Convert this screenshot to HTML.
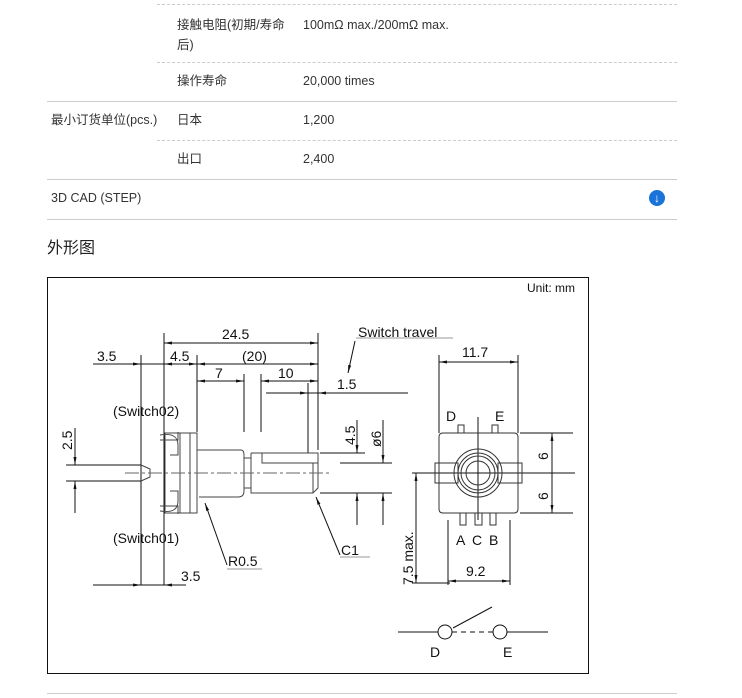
<!DOCTYPE html>
<html><head><meta charset="utf-8"><style>
body{margin:0;width:742px;height:698px;background:#fff;position:relative;font-family:"Liberation Sans","Noto Sans CJK SC",sans-serif;color:#333;font-size:12.5px;overflow:hidden}
.t{position:absolute;white-space:nowrap;line-height:18px}
.l{position:absolute;left:47px;width:630px;height:0;border-top:1px solid #ccc}
.d{position:absolute;left:157px;width:520px;height:0;border-top:1px dashed #ccc}
</style></head><body>
<div class="d" style="top:4px"></div>
<div class="t" style="left:177px;top:15px;line-height:20px">接触电阻(初期/寿命<br>后)</div>
<div class="t" style="left:303px;top:16px">100mΩ max./200mΩ max.</div>
<div class="d" style="top:62px"></div>
<div class="t" style="left:177px;top:72px">操作寿命</div>
<div class="t" style="left:303px;top:72px">20,000 times</div>
<div class="l" style="top:101px"></div>
<div class="t" style="left:51px;top:111px">最小订货单位(pcs.)</div>
<div class="t" style="left:177px;top:111px">日本</div>
<div class="t" style="left:303px;top:111px">1,200</div>
<div class="d" style="top:140px"></div>
<div class="t" style="left:177px;top:150px">出口</div>
<div class="t" style="left:303px;top:150px">2,400</div>
<div class="l" style="top:179px"></div>
<div class="t" style="left:51px;top:189px">3D CAD (STEP)</div>
<div style="position:absolute;left:649px;top:190px;width:16px;height:16px;border-radius:50%;background:#1a73d9;color:#fff;font-size:12px;line-height:16px;text-align:center;font-weight:bold">↓</div>
<div class="l" style="top:219px"></div>
<div class="t" style="left:47px;top:240px;font-size:16px;color:#222">外形图</div>
<div class="l" style="top:693px"></div>
<svg style="position:absolute;left:0;top:0" width="742" height="698" font-family="Liberation Sans, sans-serif" fill="none" stroke="#111" stroke-width="1">
<defs><marker id="a" markerWidth="8" markerHeight="6" refX="8" refY="3" orient="auto-start-reverse"><path d="M0,1.5L8,3L0,4.5z" fill="#111" stroke="none"/></marker></defs>
<rect x="47.5" y="277.5" width="541" height="396"/>
<g fill="#111" stroke="none" font-size="14">
<text x="527" y="292" font-size="12">Unit: mm</text>
<text x="222" y="339">24.5</text>
<text x="97" y="361">3.5</text><text x="170" y="361">4.5</text><text x="242" y="361">(20)</text>
<text x="215" y="378">7</text><text x="278" y="378">10</text>
<text x="337" y="389">1.5</text>
<text x="358" y="337">Switch travel</text>
<text x="113" y="416">(Switch02)</text>
<text x="113" y="543">(Switch01)</text>
<text x="228" y="566">R0.5</text>
<text x="341" y="555">C1</text>
<text x="181" y="581">3.5</text>
<text x="462" y="357">11.7</text>
<text x="446" y="421">D</text><text x="495" y="421">E</text>
<text x="456" y="545">A</text><text x="472" y="545">C</text><text x="489" y="545">B</text>
<text x="466" y="576">9.2</text>
<text x="430" y="657">D</text><text x="503" y="657">E</text>
<text transform="translate(72,450) rotate(-90)">2.5</text>
<text transform="translate(355,445) rotate(-90)">4.5</text>
<text transform="translate(381,447) rotate(-90)">ø6</text>
<text transform="translate(548,460) rotate(-90)">6</text>
<text transform="translate(548,500) rotate(-90)">6</text>
<text transform="translate(413,585) rotate(-90)">7.5 max.</text>
</g>
<path stroke="#999" d="M356,338H453 M340,557H370 M227,569H262"/>
<path d="M355,341L348,373" marker-end="url(#a)"/>
<path d="M164,333V585 M318,333V450 M141,355V585 M197,355V432 M244,374V432 M261,374V432 M308,383V453 M93,364H164 M93,585H164 M266,393H408 M66,465H141 M66,481H141 M320,453H365 M320,493H392 M340,463H392"/>
<path d="M164,343H318" marker-start="url(#a)" marker-end="url(#a)"/>
<path d="M120,364H141" marker-end="url(#a)"/><path d="M164,364H197" marker-start="url(#a)" marker-end="url(#a)"/>
<path d="M197,364H318" marker-start="url(#a)" marker-end="url(#a)"/>
<path d="M197,381H244" marker-start="url(#a)" marker-end="url(#a)"/><path d="M261,381H318" marker-start="url(#a)" marker-end="url(#a)"/>
<path d="M290,393H308" marker-end="url(#a)"/><path d="M340,393H318" marker-end="url(#a)"/>
<path d="M120,585H141" marker-end="url(#a)"/><path d="M186,585H164" marker-end="url(#a)"/>
<path d="M75,428V465" marker-end="url(#a)"/><path d="M75,513V481" marker-end="url(#a)"/>
<path d="M357,420V453" marker-end="url(#a)"/><path d="M357,525V493" marker-end="url(#a)"/>
<path d="M383,420V463" marker-end="url(#a)"/><path d="M383,525V493" marker-end="url(#a)"/>
<path stroke="#444" d="M165,433H197V513H165Z M197,450H241Q244,450 244,455V491Q244,497 238,497H199 M244,458H251V488H244 M251,453H318V463 M262,453V463H318 M251,453V493H313L318,488V463 M313,463V493 M160,440H178V432 M160,506H178V514 M180,433V513 M190,433V513 M160,435Q178,432 178,445V455H170 M160,511Q178,514 178,501V491H170 M141,465L150,469V477L141,481"/>
<path stroke="#666" stroke-dasharray="14,3,3,3" d="M125,473H330"/>
<path d="M205,503L227,565" marker-start="url(#a)"/><path d="M316,497L340,555" marker-start="url(#a)"/>
<path d="M439,355V433 M518,355V433 M520,433H573 M520,513H573 M432,473H575 M478,417V520 M448,520V585 M510,520V585 M412,473H438 M412,583H450"/>
<path d="M439,362H518" marker-start="url(#a)" marker-end="url(#a)"/>
<path d="M448,581H510" marker-start="url(#a)" marker-end="url(#a)"/>
<path d="M552,433V513" marker-start="url(#a)" marker-end="url(#a)"/>
<path d="M416,473V583" marker-start="url(#a)" marker-end="url(#a)"/>
<path stroke="#333" d="M443,433H514Q518,433 518,437V509Q518,513 514,513H443Q439,513 439,509V437Q439,433 443,433Z"/>
<circle cx="478" cy="473" r="24" stroke="#333"/><circle cx="478" cy="473" r="20" stroke="#333"/><circle cx="478" cy="473" r="17" stroke="#333"/><circle cx="478" cy="473" r="12" stroke="#333"/>
<path stroke="#333" d="M435,463H458V483H435Z M498,463H522V483H498Z M458,425H464V433H458Z M492,425H498V433H492Z M460,513V525H466V513 M475,513V525H482V513 M490,513V525H496V513"/>
<path d="M398,632H438 M507,632H548 M453,628L492,607"/><path stroke-dasharray="5,4" d="M452,632H493"/>
<circle cx="445" cy="632" r="7"/><circle cx="500" cy="632" r="7"/>
</svg>
</body></html>
